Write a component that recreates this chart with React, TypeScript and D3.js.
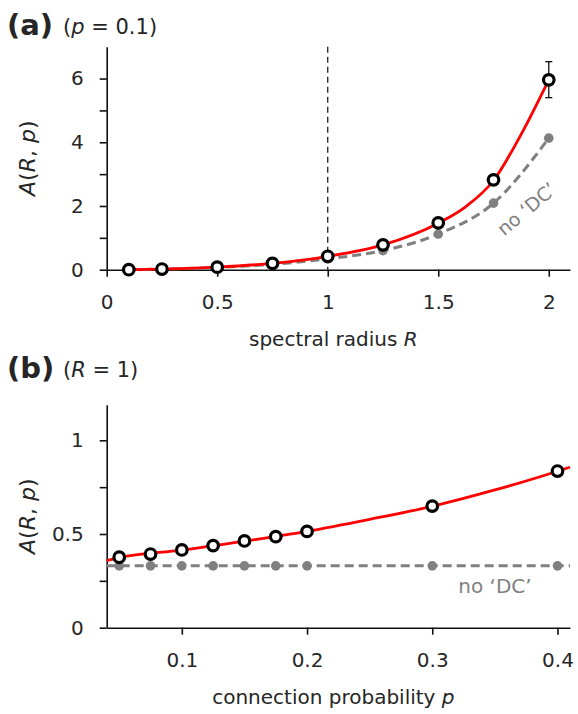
import React, { useEffect, useRef } from 'react'
import * as d3 from 'd3'

// panel (a): p = 0.1
const radiusR = [0.1, 0.25, 0.5, 0.75, 1, 1.25, 1.5, 1.75, 2]
const simA = [0.0, 0.02, 0.08, 0.2, 0.42, 0.78, 1.47, 2.82, 5.96]
const noDcA = [0.0, 0.02, 0.07, 0.17, 0.34, 0.6, 1.12, 2.09, 4.13]
const fitR = [0.1, 0.25, 0.5, 0.75, 1, 1.25, 1.5, 1.625, 1.75, 1.875, 2]
const fitA = [0.0, 0.02, 0.08, 0.2, 0.42, 0.78, 1.46, 1.98, 2.8, 4.25, 5.96]
const errTop = 6.53
const errBottom = 5.4

// panel (b): R = 1
const probP = [0.05, 0.075, 0.1, 0.125, 0.15, 0.175, 0.2, 0.3, 0.4]
const simB = [0.376, 0.393, 0.415, 0.438, 0.463, 0.486, 0.514, 0.649, 0.836]
const noDcB = [0.33, 0.33, 0.33, 0.33, 0.33, 0.33, 0.33, 0.33, 0.33]
const fitP = [0.04, 0.05, 0.1, 0.15, 0.2, 0.25, 0.3, 0.35, 0.4, 0.41]
const fitB = [0.358, 0.374, 0.414, 0.462, 0.514, 0.578, 0.648, 0.735, 0.835, 0.857]

const xTicksA = [0, 0.5, 1, 1.5, 2]
const yTicksA = [0, 1, 2, 3, 4, 5, 6]
const xTicksB = [0.1, 0.2, 0.3, 0.4]
const yTicksB = [0, 0.25, 0.5, 0.75, 1]

const FONT = '"DejaVu Sans", sans-serif'
const INK = '#262626'
const GRAY = '#808080'

const App = () => {
  const ref = useRef<SVGGElement>(null)

  useEffect(() => {
    const root = d3.select(ref.current)
    root.selectAll('*').remove()

    const left = 106.7
    const right = 570

    const drawPanel = (opts: any) => {
      const { xDomain, yDomain, top, bottom, xTicks, yTicks, xFmt, yFmt, xLabel } = opts
      const x = d3.scaleLinear().domain(xDomain).range([left, right])
      const y = d3.scaleLinear().domain(yDomain).range([bottom, top])
      const g = root.append('g')

      const yAxis = g.append('g')
        .attr('transform', `translate(${left},0)`)
        .call(d3.axisLeft(y).tickValues(yTicks).tickSize(7).tickSizeOuter(0).tickPadding(16).tickFormat(yFmt))
      const xAxis = g.append('g')
        .attr('transform', `translate(0,${bottom})`)
        .call(d3.axisBottom(x).tickValues(xTicks).tickSize(7).tickSizeOuter(0).tickPadding(18).tickFormat(xFmt))

      for (const ax of [xAxis, yAxis]) {
        ax.selectAll('text').attr('font-family', FONT).attr('font-size', 20).attr('fill', INK)
        ax.selectAll('line').attr('stroke', '#111').attr('stroke-width', 1.6)
        ax.select('.domain').attr('stroke', '#111').attr('stroke-width', 1.6)
      }

      g.append('text')
        .attr('x', (left + right) / 2 - 5)
        .attr('y', bottom + 76)
        .attr('text-anchor', 'middle')
        .attr('font-family', FONT)
        .attr('font-size', 20)
        .attr('fill', INK)
        .html(xLabel)

      g.append('text')
        .attr('transform', `translate(35,${(top + bottom) / 2}) rotate(-90)`)
        .attr('text-anchor', 'middle')
        .attr('font-family', FONT)
        .attr('font-size', 22)
        .attr('fill', INK)
        .html('<tspan font-style="italic">A</tspan>(<tspan font-style="italic">R</tspan>, <tspan font-style="italic">p</tspan>)')

      return { g, x, y }
    }

    // ---- panel (a)
    const a = drawPanel({
      xDomain: [0, 2.096], yDomain: [0, 7], top: 46.7, bottom: 269.7,
      xTicks: xTicksA, yTicks: yTicksA,
      xFmt: (d: number) => String(d),
      yFmt: (d: number) => (d % 2 === 0 ? String(d) : ''),
      xLabel: 'spectral radius <tspan font-style="italic">R</tspan>',
    })

    a.g.append('line')
      .attr('x1', a.x(1)).attr('x2', a.x(1))
      .attr('y1', a.y(7)).attr('y2', a.y(0))
      .attr('stroke', '#111').attr('stroke-width', 1.2).attr('stroke-dasharray', '6,4')

    const grayA = radiusR.map((r, i) => [r, noDcA[i]])
    a.g.append('path')
      .attr('d', d3.line().x(d => a.x(d[0])).y(d => a.y(d[1])).curve(d3.curveMonotoneX)(grayA as any))
      .attr('fill', 'none').attr('stroke', GRAY).attr('stroke-width', 3).attr('stroke-dasharray', '9,5')
    a.g.selectAll('.gdot').data(grayA).enter().append('circle')
      .attr('cx', d => a.x(d[0])).attr('cy', d => a.y(d[1])).attr('r', 4.8).attr('fill', GRAY)

    const redA = fitR.map((r, i) => [r, fitA[i]])
    a.g.append('path')
      .attr('d', d3.line().x(d => a.x(d[0])).y(d => a.y(d[1])).curve(d3.curveMonotoneX)(redA as any))
      .attr('fill', 'none').attr('stroke', '#ff0000').attr('stroke-width', 2.8)

    const ex = a.x(2)
    a.g.append('line').attr('x1', ex).attr('x2', ex).attr('y1', a.y(errTop)).attr('y2', a.y(errBottom))
      .attr('stroke', '#111').attr('stroke-width', 1.3)
    for (const v of [errTop, errBottom]) {
      a.g.append('line').attr('x1', ex - 3.5).attr('x2', ex + 3.5).attr('y1', a.y(v)).attr('y2', a.y(v))
        .attr('stroke', '#111').attr('stroke-width', 1.3)
    }

    a.g.selectAll('.odot').data(radiusR.map((r, i) => [r, simA[i]])).enter().append('circle')
      .attr('cx', d => a.x(d[0])).attr('cy', d => a.y(d[1])).attr('r', 5.3)
      .attr('fill', '#fff').attr('stroke', '#000').attr('stroke-width', 3.2)

    a.g.append('text')
      .attr('transform', `translate(531,214) rotate(-40)`)
      .attr('text-anchor', 'middle')
      .attr('font-family', FONT).attr('font-size', 19).attr('fill', GRAY)
      .text('no ‘DC’')

    // ---- panel (b)
    const b = drawPanel({
      xDomain: [0.04, 0.41], yDomain: [0, 1.19], top: 404.7, bottom: 627.7,
      xTicks: xTicksB, yTicks: yTicksB,
      xFmt: (d: number) => String(d),
      yFmt: (d: number) => (d === 0.25 || d === 0.75 ? '' : String(d)),
      xLabel: 'connection probability <tspan font-style="italic">p</tspan>',
    })

    const grayB = probP.map((p, i) => [p, noDcB[i]])
    b.g.append('line')
      .attr('x1', b.x(0.04)).attr('x2', b.x(0.41))
      .attr('y1', b.y(noDcB[0])).attr('y2', b.y(noDcB[0]))
      .attr('stroke', GRAY).attr('stroke-width', 3).attr('stroke-dasharray', '9,5')
    b.g.selectAll('.gdot').data(grayB).enter().append('circle')
      .attr('cx', d => b.x(d[0])).attr('cy', d => b.y(d[1])).attr('r', 4.8).attr('fill', GRAY)

    const redB = fitP.map((p, i) => [p, fitB[i]])
    b.g.append('path')
      .attr('d', d3.line().x(d => b.x(d[0])).y(d => b.y(d[1])).curve(d3.curveMonotoneX)(redB as any))
      .attr('fill', 'none').attr('stroke', '#ff0000').attr('stroke-width', 2.8)

    b.g.selectAll('.odot').data(probP.map((p, i) => [p, simB[i]])).enter().append('circle')
      .attr('cx', d => b.x(d[0])).attr('cy', d => b.y(d[1])).attr('r', 5.3)
      .attr('fill', '#fff').attr('stroke', '#000').attr('stroke-width', 3.2)

    b.g.append('text')
      .attr('x', 495).attr('y', 593)
      .attr('text-anchor', 'middle')
      .attr('font-family', FONT).attr('font-size', 20).attr('fill', GRAY)
      .text('no ‘DC’')

    // panel letters
    const titles = [
      { y: 35, letter: '(a)', sub: '(<tspan font-style="italic">p</tspan> = 0.1)', subY: 34 },
      { y: 378, letter: '(b)', sub: '(<tspan font-style="italic">R</tspan> = 1)', subY: 377 },
    ]
    for (const t of titles) {
      root.append('text').attr('x', 7).attr('y', t.y)
        .attr('font-family', FONT).attr('font-size', 29).attr('font-weight', 'bold').attr('fill', INK)
        .text(t.letter)
      root.append('text').attr('x', 63).attr('y', t.subY)
        .attr('font-family', FONT).attr('font-size', 21).attr('fill', INK)
        .html(t.sub)
    }
  }, [])

  return (
    <svg width={578} height={714} style={{ position: 'absolute', left: 0, top: 0, background: '#fff' }}>
      <g ref={ref} />
    </svg>
  )
}

export default App
